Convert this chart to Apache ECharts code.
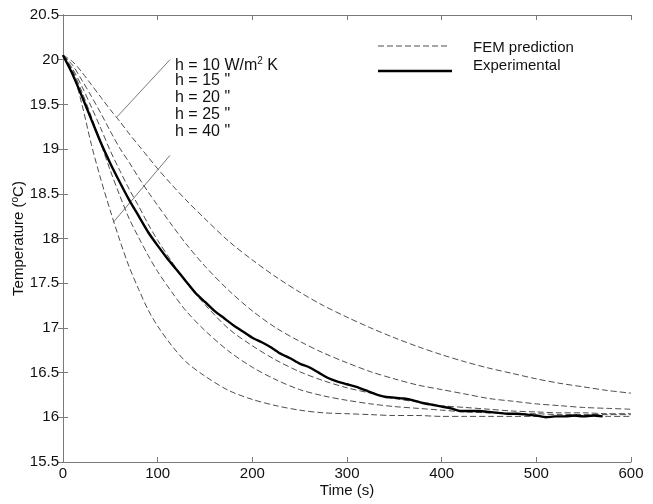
<!DOCTYPE html>
<html><head><meta charset="utf-8">
<script src="https://cdn.jsdelivr.net/npm/echarts@6/dist/echarts.min.js"></script>
<style>html,body{margin:0;padding:0;background:#fff}#c{width:653px;height:504px}</style>
</head><body><div id="c"></div>
<script>
// FEM prediction curves (time s, temperature °C)
const femTime = [0,10,20,30,40,50,60,70,80,90,100,115,130,150,175,200,225,250,275,300,325,350,375,400,425,450,475,500,525,550,575,600];
const femH10 = [20.05,19.98,19.86,19.72,19.58,19.44,19.31,19.17,19.04,18.91,18.78,18.60,18.43,18.22,17.97,17.76,17.57,17.40,17.25,17.12,17.00,16.89,16.79,16.70,16.62,16.55,16.49,16.43,16.38,16.34,16.30,16.27];
const femH15 = [20.05,19.94,19.77,19.59,19.40,19.20,19.01,18.85,18.68,18.52,18.37,18.15,17.94,17.69,17.42,17.19,17.00,16.85,16.72,16.61,16.51,16.43,16.36,16.31,16.26,16.21,16.18,16.15,16.13,16.11,16.10,16.09];
const femH20 = [20.05,19.90,19.70,19.47,19.23,18.98,18.76,18.55,18.36,18.16,17.98,17.74,17.51,17.26,16.99,16.80,16.64,16.51,16.41,16.33,16.27,16.21,16.17,16.13,16.11,16.09,16.07,16.06,16.05,16.05,16.04,16.04];
const femH25 = [20.05,19.88,19.64,19.36,19.06,18.76,18.48,18.22,18.01,17.81,17.63,17.40,17.19,16.97,16.74,16.56,16.42,16.31,16.24,16.19,16.15,16.12,16.10,16.08,16.06,16.05,16.04,16.04,16.03,16.03,16.03,16.03];
const femH40 = [20.05,19.87,19.50,19.05,18.66,18.31,17.98,17.68,17.43,17.20,17.02,16.80,16.62,16.46,16.30,16.20,16.13,16.08,16.05,16.04,16.03,16.02,16.02,16.01,16.01,16.01,16.01,16.01,16.01,16.01,16.01,16.01];
// Experimental
const expTime = [0,10,20,30,40,50,60,70,80,90,100,110,120,130,140,150,160,170,180,190,200,210,220,230,240,250,260,270,280,290,300,310,320,330,340,350,360,370,380,390,400,410,420,430,440,450,460,470,480,490,500,510,520,530,540,550,560,570];
const expTemp = [20.05,19.84,19.59,19.33,19.07,18.84,18.63,18.43,18.25,18.07,17.92,17.78,17.65,17.52,17.39,17.29,17.19,17.11,17.03,16.96,16.89,16.84,16.78,16.71,16.66,16.60,16.56,16.50,16.44,16.40,16.37,16.34,16.30,16.26,16.23,16.22,16.21,16.19,16.16,16.14,16.12,16.10,16.07,16.07,16.07,16.06,16.05,16.04,16.04,16.03,16.02,16.00,16.01,16.01,16.02,16.01,16.02,16.01];
// annotation pointer lines (data coords)
const pointerTop = [[113,20.0],[57,19.36]];
const pointerBottom = [[113,18.93],[53,18.18]];
const hLabels = ['h = 10 W/m{sup|2} K','h = 15 "','h = 20 "','h = 25 "','h = 40 "'];
const xTicks = {min:0,max:600,interval:100};
const yTicks = {min:15.5,max:20.5,interval:0.5};

const pairs = (xs, ys) => xs.map((x,i)=>[x, ys[i]]);
const FONT = 'Liberation Sans, Arial, sans-serif';
const dashStyle = {color:'#3a3a3a', width:0.9, type:[6,3]};
const femSeries = [femH10,femH15,femH20,femH25,femH40].map((ys,i)=>({
  type:'line', name:'FEM'+i, data:pairs(femTime, ys), showSymbol:false, symbol:'none',
  smooth:0.3, lineStyle:dashStyle, silent:true, animation:false, z:2
}));
const axisCommon = {
  axisLine:{show:true,lineStyle:{color:'#7a7a7a',width:1}},
  axisTick:{show:true,inside:true,length:5,lineStyle:{color:'#7a7a7a'}},
  splitLine:{show:false}
};
const chart = echarts.init(document.getElementById('c'), null, {renderer:'canvas'});
chart.setOption({
  animation:false,
  backgroundColor:'#fff',
  grid:{left:63,right:22,top:15,bottom:42,show:false,containLabel:false,outerBoundsMode:'none'},
  xAxis:[
    Object.assign({type:'value',position:'bottom',min:xTicks.min,max:xTicks.max,interval:xTicks.interval,
      name:'Time (s)',nameLocation:'middle',nameGap:21,nameMoveOverlap:false,
      nameTextStyle:{fontFamily:FONT,fontSize:15,color:'#111'},
      axisLabel:{fontFamily:FONT,fontSize:15,color:'#111',margin:4}},axisCommon),
    Object.assign({type:'value',position:'top',min:xTicks.min,max:xTicks.max,interval:xTicks.interval,
      axisLabel:{show:false}},axisCommon)
  ],
  yAxis:[
    Object.assign({type:'value',position:'left',min:yTicks.min,max:yTicks.max,interval:yTicks.interval,
      name:'Temperature ({sup|o}C)',nameLocation:'middle',nameGap:35,nameRotate:90,nameMoveOverlap:false,
      nameTextStyle:{fontFamily:FONT,fontSize:15,color:'#111',rich:{sup:{fontFamily:FONT,fontSize:10,color:'#111',padding:[0,0,8,0]}}},
      axisLabel:{fontFamily:FONT,fontSize:15,color:'#111',margin:4}},axisCommon),
    Object.assign({type:'value',position:'right',min:yTicks.min,max:yTicks.max,interval:yTicks.interval,
      axisLabel:{show:false}},axisCommon)
  ],
  series: femSeries.concat([
    {type:'line',name:'Experimental',data:pairs(expTime,expTemp),showSymbol:false,symbol:'none',smooth:0.2,
     lineStyle:{color:'#000',width:2.4},silent:true,z:5},
    {type:'line',data:pointerTop,showSymbol:false,symbol:'none',lineStyle:{color:'#555',width:0.8},silent:true},
    {type:'line',data:pointerBottom,showSymbol:false,symbol:'none',lineStyle:{color:'#555',width:0.8},silent:true}
  ]),
  graphic:[].concat(
    hLabels.map((t,i)=>({type:'text',left:175,top:56+i*16.8,silent:true,
      style:{text:t,fontFamily:FONT,fontSize:16,fill:'#111',
        rich:{sup:{fontFamily:FONT,fontSize:10,fill:'#111',padding:[0,0,9,0]}}}})),
    [
      {type:'line',shape:{x1:378,y1:46,x2:450,y2:46},style:{stroke:'#3a3a3a',lineWidth:0.9,lineDash:[6,3]},silent:true},
      {type:'line',shape:{x1:378,y1:71,x2:452,y2:71},style:{stroke:'#000',lineWidth:2.4},silent:true},
      {type:'text',left:473,top:40,style:{text:'FEM prediction',fontFamily:FONT,fontSize:15,fill:'#111'},silent:true},
      {type:'text',left:473,top:58,style:{text:'Experimental',fontFamily:FONT,fontSize:15,fill:'#111'},silent:true}
    ]
  )
});
</script></body></html>
